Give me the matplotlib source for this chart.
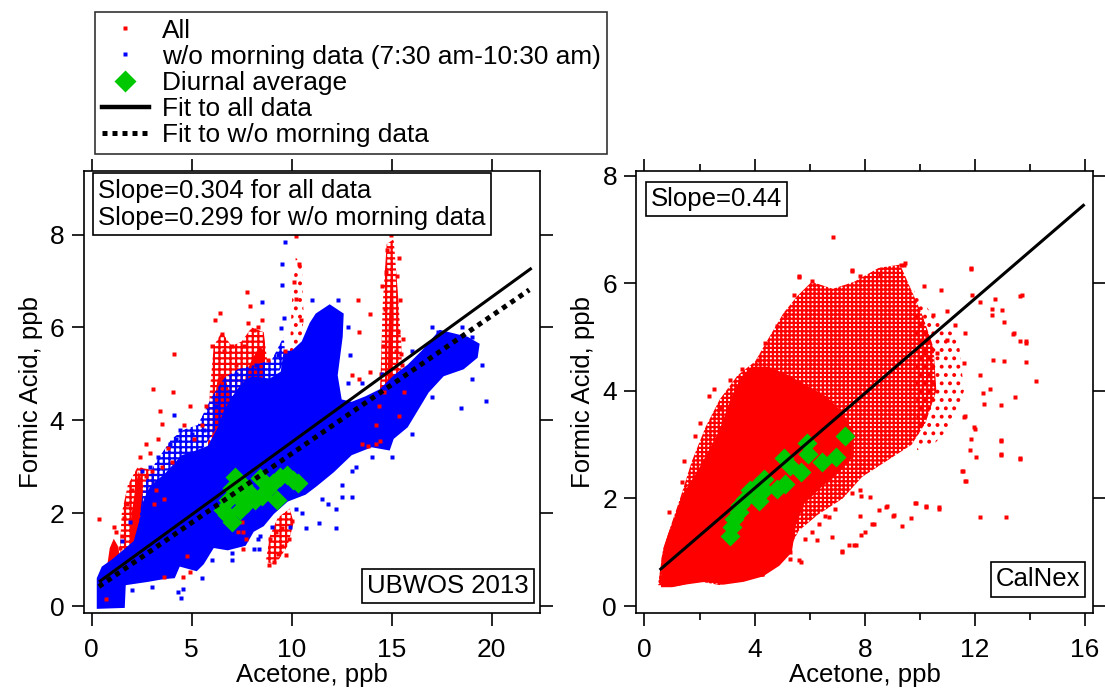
import matplotlib.pyplot as plt
from matplotlib.lines import Line2D

plt.rcParams['font.family'] = ['Liberation Sans', 'DejaVu Sans']
plt.rcParams['hatch.linewidth'] = 1.6

RED = '#ff0000'
BLUE = '#0000ff'
GREEN = '#00c800'

# ---------------- UBWOS 2013 ----------------
# outline of the dense "w/o morning data" cloud
ub_blue_x = [0.25, 1.65, 1.7, 2.8, 3.6, 4.15, 4.4, 5.25, 5.6, 6.1, 6.8, 7.7, 8.1, 8.6, 9.1, 9.8,
             10.7, 11.25, 12.1, 13.0, 14.0, 14.9, 15.1, 15.8, 16.5, 16.85, 17.6, 18.6, 19.3,
             19.4, 18.8, 17.4, 16.5, 15.8, 15.1, 14.4, 13.7, 13.0, 12.5, 12.3, 12.55, 12.6,
             11.9, 11.2, 10.9, 10.5, 10.0, 9.6, 9.45, 8.9, 8.0, 7.5, 7.0, 6.6, 6.3, 5.8, 5.2,
             4.5, 3.65, 2.95, 2.6, 2.45, 2.1, 1.55, 1.0, 0.5, 0.25]
ub_blue_y = [-0.06, -0.04, 0.45, 0.52, 0.58, 0.6, 0.85, 0.75, 0.9, 1.25, 1.2, 1.3, 1.6, 1.72, 1.98, 2.25,
             2.4, 2.58, 2.88, 3.25, 3.42, 3.35, 3.6, 3.85, 4.35, 4.6, 4.95, 5.1, 5.35,
             5.65, 5.8, 5.95, 5.5, 5.2, 4.97, 4.67, 4.52, 4.4, 4.45, 4.97, 5.8, 6.3,
             6.5, 6.3, 6.1, 5.7, 5.5, 5.5, 5.05, 4.9, 4.95, 4.8, 4.5, 4.2, 3.85, 3.45, 3.35,
             3.25, 2.85, 2.6, 2.3, 1.95, 1.4, 1.2, 1.0, 0.85, 0.6]
# thinner blue speckle around the top of the cloud
ub_blue_fringe_x = [2.3, 2.6, 3.2, 4.0, 4.6, 5.3, 6.0, 6.6, 7.3, 8.2, 9.0, 9.6, 9.7, 9.0, 8.0,
                    7.0, 6.2, 5.4, 4.6, 3.7, 3.0]
ub_blue_fringe_y = [1.6, 2.6, 3.1, 3.6, 3.8, 3.9, 4.5, 4.9, 5.1, 5.2, 5.3, 5.8, 5.3, 4.8, 4.7,
                    4.3, 3.8, 3.3, 3.1, 2.7, 2.3]

# dense morning ("All") patches that stick out of the blue cloud
ub_red_solid1_x = [0.7, 0.75, 0.9, 1.1, 1.3, 1.5, 1.35]
ub_red_solid1_y = [0.0, 0.8, 1.25, 1.45, 1.3, 0.9, 0.0]
ub_red_solid2_x = [1.9, 2.0, 2.2, 2.35, 2.5, 2.55, 2.4, 2.1]
ub_red_solid2_y = [1.3, 2.0, 2.6, 2.9, 2.7, 1.9, 1.0, 0.9]
ub_red_solid3_x = [6.0, 6.1, 6.3, 6.6, 6.9, 6.9, 6.6]
ub_red_solid3_y = [3.4, 4.3, 4.9, 5.0, 4.6, 3.9, 3.4]
ub_red_solid4_x = [7.6, 7.7, 8.0, 8.4, 8.6, 8.6, 8.3, 7.9]
ub_red_solid4_y = [4.4, 5.0, 5.3, 5.6, 5.5, 5.0, 4.5, 4.3]
ub_red_solid5_x = [14.8, 14.85, 14.95, 15.05, 15.1, 15.0]
ub_red_solid5_y = [4.8, 6.0, 7.0, 7.5, 6.2, 4.9]

# speckled morning areas
ub_red_speck1_x = [1.4, 1.5, 1.8, 2.3, 2.8, 3.3, 3.0, 2.6, 2.2, 1.7]
ub_red_speck1_y = [1.2, 2.0, 2.6, 3.0, 2.95, 2.9, 2.3, 1.6, 0.9, 0.9]
ub_red_speck2_x = [5.8, 5.9, 6.1, 6.5, 7.0, 7.5, 8.0, 8.6, 8.8, 8.6, 7.8, 7.0, 6.4]
ub_red_speck2_y = [3.3, 4.6, 5.6, 5.9, 5.6, 5.7, 6.0, 5.9, 5.2, 4.4, 3.8, 3.3, 3.0]
ub_red_speck3_x = [14.3, 14.45, 14.55, 14.75, 15.1, 15.3, 15.5, 15.45, 15.1]
ub_red_speck3_y = [3.6, 5.0, 6.5, 7.8, 7.9, 6.8, 5.5, 4.4, 3.6]
ub_red_speck4_x = [8.7, 8.9, 9.3, 9.9, 10.1, 9.8, 9.2]
ub_red_speck4_y = [0.95, 1.5, 1.9, 2.1, 1.8, 1.3, 0.9]
ub_red_speck5_x = [9.9, 10.0, 10.2, 10.5, 10.6, 10.4]
ub_red_speck5_y = [5.4, 6.5, 7.5, 7.4, 6.2, 5.4]

ub_red_x = [10.47, 10.20, 10.38, 10.12, 10.20, 10.47, 9.68, 7.74, 7.91, 7.83, 8.53, 8.09, 6.15, 6.42,
            6.51, 4.13, 3.07, 4.04, 4.92, 3.51, 2.72, 0.34, 14.78, 14.61, 15.22, 15.13, 13.37, 13.37,
            15.57, 15.49, 13.02, 13.9, 8.88, 9.32, 9.85, 9.50, 10.03, 7.56, 7.56, 4.92, 4.75, 4.57,
            3.60, 0.70, 14.45, 14.55, 14.65, 15.3, 15.4, 15.5, 14.7, 15.25, 14.95, 14.35, 15.6, 14.2,
            15.35, 14.6, 15.2, 14.5, 15.35, 6.6, 7.2, 7.0, 8.3, 8.8, 5.7, 5.5, 6.0, 7.6, 1.5, 1.6,
            1.75, 2.0, 1.4, 2.7, 3.0, 3.2, 3.5, 2.9, 3.3, 3.8, 4.0, 1.2, 3.1, 3.6, 7.3, 7.5, 7.7,
            8.9, 9.2, 9.5, 9.7, 9.1, 13.5, 13.8, 14.2, 14.4, 4.6, 5.1, 3.4, 2.4, 1.1, 13.9, 13.3]
ub_red_y = [9.20, 7.97, 7.37, 6.99, 6.62, 6.17, 5.50, 6.77, 6.47, 6.10, 6.17, 5.95, 6.17, 6.32,
            5.87, 5.42, 4.67, 4.60, 4.30, 3.93, 3.48, 1.87, 7.67, 8.34, 8.49, 8.12, 4.9, 5.91,
            5.76, 5.42, 4.97, 5.05, 0.89, 1.12, 1.45, 1.68, 1.83, 1.23, 1.6, 0.74, 1.08, 0.63,
            0.63, 0.15, 5.0, 5.6, 6.4, 5.9, 6.6, 5.2, 7.2, 7.1, 8.0, 4.3, 4.6, 3.9,
            4.1, 4.6, 5.5, 6.9, 7.5, 5.5, 5.2, 5.6, 6.0, 5.3, 4.3, 3.9, 5.6, 5.6, 1.5, 1.9,
            2.2, 2.5, 1.25, 2.8, 2.9, 2.5, 3.0, 3.3, 3.6, 3.4, 3.1, 1.6, 2.2, 2.3, 1.6, 1.8, 1.45,
            1.45, 1.6, 1.3, 1.1, 0.95, 3.5, 3.45, 3.5, 3.55, 3.9, 3.6, 4.2, 3.2, 1.7, 6.3, 6.6]

ub_blue_pts_x = [9.68, 9.50, 9.50, 8.53, 9.59, 9.45, 18.48, 19.71, 4.13, 12.49, 13.02, 12.23, 11.35,
                 4.48, 4.57, 10.73, 8.36, 8.09, 7.03, 17.25, 17.95, 17.34, 12.8, 12.9, 13.0, 11.8,
                 10.5, 9.9, 4.2, 4.4, 3.9, 2.9, 3.3, 2.5, 1.9, 1.5, 4.3, 8.3, 7.3, 12.2, 18.2,
                 19.0, 17.6, 5.0, 5.6, 6.2, 7.2, 8.2, 9.3, 11.0, 12.3, 12.8, 13.5, 14.5, 16.0,
                 17.0, 18.5, 19.5, 19.0, 17.0, 16.0, 15.0, 14.0, 13.2, 12.5, 11.5, 10.2, 9.0,
                 8.4, 7.0, 6.0, 5.5, 3.0, 2.0]
ub_blue_pts_y = [7.85, 7.37, 6.92, 6.54, 6.21, 5.98, 4.26, 4.41, 4.11, 2.35, 2.35, 1.68, 1.79,
                 0.18, 0.37, 1.68, 1.23, 1.23, 1.15, 5.42, 5.65, 5.91, 6.0, 5.4, 2.9, 2.2,
                 2.0, 1.7, 3.6, 3.8, 3.5, 3.0, 3.2, 2.9, 1.8, 1.4, 0.3, 1.45, 1.5, 2.1, 5.5,
                 5.8, 5.3, 3.7, 3.8, 4.3, 5.0, 5.2, 5.4, 6.6, 6.6, 4.8, 4.8, 5.0, 5.5,
                 6.0, 6.0, 5.2, 4.9, 4.5, 3.7, 3.2, 3.2, 3.0, 2.6, 2.3, 2.1, 1.7,
                 1.5, 1.0, 1.0, 0.6, 0.4, 0.35]

ub_diurnal_x = [7.17, 7.0, 7.58, 6.83, 6.75, 7.0, 7.42, 7.75, 8.17, 8.5, 8.75, 9.08, 9.42, 9.75,
                10.08, 10.33, 7.92, 7.25, 6.58, 8.42, 9.25]
ub_diurnal_y = [2.79, 2.54, 2.61, 2.29, 1.96, 1.82, 2.07, 2.21, 2.29, 2.36, 2.50, 2.65, 2.79, 2.82,
                2.72, 2.65, 2.43, 2.36, 2.07, 2.76, 2.29]

ub_fit_all_x = [0.36, 22.0]
ub_fit_all_y = [0.52, 7.28]
ub_fit_wo_x = [0.36, 21.88]
ub_fit_wo_y = [0.42, 6.81]

# ---------------- CalNex ----------------
cn_core_x = [0.6, 0.62, 0.8, 1.05, 1.36, 1.97, 2.69, 3.18, 3.5, 3.9, 4.5, 5.2, 5.9, 6.6, 7.2, 7.6,
             7.6, 7.1, 6.4, 5.8, 5.5, 5.35, 4.9, 4.3, 3.6, 2.9, 2.2, 1.5, 1.0]
cn_core_y = [0.35, 0.9, 1.25, 1.6, 2.05, 2.55, 3.23, 3.91, 4.25, 4.45, 4.45, 4.3, 4.1, 3.9, 3.6, 3.2,
             2.8, 2.5, 2.2, 1.9, 1.5, 1.0, 0.75, 0.55, 0.45, 0.4, 0.45, 0.4, 0.35]

cn_halo_x = [0.49, 0.68, 1.32, 1.71, 2.22, 2.73, 3.38, 4.02, 4.53, 5.05, 5.56, 6.07, 6.84, 7.61,
             8.51, 9.28, 9.67, 10.1, 10.5, 10.6, 10.2, 9.7, 8.8, 7.9, 7.2, 6.3, 5.6, 5.1,
             4.3, 3.76, 2.73, 1.96, 1.07]
cn_halo_y = [0.39, 1.07, 2.04, 2.68, 3.33, 3.84, 4.29, 4.55, 5.0, 5.45, 5.77, 6.03, 5.9, 6.03,
             6.29, 6.35, 5.9, 5.4, 4.8, 4.0, 3.4, 3.0, 2.7, 2.4, 2.0, 1.7, 1.4, 0.9,
             0.6, 0.49, 0.39, 0.46, 0.36]
cn_sparse_x = [9.8, 10.6, 11.4, 11.6, 11.2, 10.5, 9.9]
cn_sparse_y = [5.9, 5.3, 5.0, 4.0, 3.4, 3.0, 2.9]

cn_pts_x = [6.84, 11.85, 9.41, 7.55, 5.62, 13.65, 12.62, 13.07, 13.84, 13.39, 14.22, 12.56, 12.94,
            12.3, 11.59, 11.98, 12.94, 12.94, 13.65, 11.53, 11.66, 10.24, 10.69, 9.86, 12.17,
            13.13, 8.77, 9.03, 8.26, 7.87, 7.16, 7.61, 5.69, 5.30, 4.28, 7.55, 7.87, 6.71, 6.33,
            13.65, 12.94, 12.94, 11.65, 11.55, 12.04, 11.83, 10.68, 10.23, 9.83, 9.68, 9.35,
            9.07, 8.81, 8.50, 8.32, 8.02, 7.69, 7.41, 7.84, 8.20, 7.81, 12.32, 13.46, 11.65,
            11.86, 12.01, 7.53, 9.47, 9.31, 11.86, 7.84, 8.54, 10.14, 10.77, 11.89, 13.71, 12.74,
            12.98, 12.19, 12.62, 13.41, 13.65, 13.86, 13.86, 13.04, 12.64, 12.17, 11.59, 11.29,
            11.65, 10.98, 10.62, 10.98, 10.48, 10.08, 10.26, 10.14, 5.60, 6.08,
            5.42, 5.11, 4.81, 4.39, 4.15, 3.55, 3.12, 1.42, 1.84, 2.33, 2.75, 0.88, 1.36, 2.03,
            2.51, 4.27, 5.29, 5.60, 6.08, 6.26, 6.56, 6.81, 7.17, 5.84, 6.93, 0.64]
cn_pts_y = [6.87, 6.26, 6.35, 6.24, 6.11, 5.77, 5.52, 5.29, 4.90, 5.06, 4.18, 4.03, 3.74,
            3.97, 3.52, 3.33, 3.07, 2.81, 2.74, 2.52, 2.33, 1.84, 1.81, 1.91, 1.65,
            1.65, 1.84, 1.68, 1.52, 1.33, 1.00, 1.13, 0.81, 0.88, 0.59, 2.10, 2.04, 1.65, 1.52,
            2.76, 2.83, 3.09, 2.33, 2.52, 2.78, 2.90, 1.84, 1.86, 1.92, 1.63, 1.48,
            1.70, 1.86, 1.79, 1.53, 1.37, 1.13, 1.14, 1.67, 2.02, 2.15, 3.75, 3.88, 3.54,
            3.10, 3.29, 6.25, 6.38, 6.35, 6.28, 6.14, 6.16, 5.96, 5.87, 5.79, 5.79, 5.71,
            5.51, 5.66, 5.42, 5.08, 4.92, 4.92, 4.53, 4.55, 4.57, 4.30, 4.52, 5.23,
            5.08, 4.95, 4.71, 5.48, 5.42, 5.26, 5.01, 4.71, 6.13, 6.04,
            5.79, 5.42, 5.20, 4.89, 4.58, 4.40, 4.20, 2.70, 3.17, 3.91, 3.69, 1.74, 2.30, 3.41,
            4.03, 0.60, 1.00, 0.85, 1.37, 1.22, 1.68, 1.28, 1.03, 1.25, 1.81, 0.51]

cn_diurnal_x = [3.12, 3.18, 3.24, 3.42, 3.48, 3.66, 3.84, 4.08, 4.33, 4.15, 4.33, 4.81, 5.11, 5.05,
                5.29, 5.69, 5.90, 5.94, 6.45, 6.95, 7.29]
cn_diurnal_y = [1.31, 1.47, 1.62, 1.74, 1.87, 1.99, 2.15, 2.24, 2.36, 1.96, 2.15, 2.18, 2.27, 2.75,
                2.61, 2.50, 3.04, 2.83, 2.67, 2.78, 3.17]

cn_fit_x = [0.55, 15.98]
cn_fit_y = [0.67, 7.47]

FS = 18.5
DOT_STYLE = (0, (1, 1))


def style_axes(ax, xticks, yticks, xlim, ylim):
    ax.set_xlim(*xlim)
    ax.set_ylim(*ylim)
    ax.set_xticks(xticks)
    ax.set_yticks(yticks)
    ax.tick_params(direction='out', length=9, width=1.2, top=True, right=True,
                   labelsize=19, pad=5)
    ax.tick_params(axis='x', pad=9)
    for sp in ax.spines.values():
        sp.set_linewidth(1.2)
    ax.set_xlabel('Acetone, ppb', fontsize=18.5, labelpad=1)
    ax.set_ylabel('Formic Acid, ppb', fontsize=18.5, labelpad=5)


def points(ax, x, y, color):
    ax.plot(x, y, ls='none', marker='s', ms=2.4, mfc=color, mec='none')


def speckle(ax, x, y, color, pattern):
    ax.fill(x, y, facecolor='none', edgecolor=color, lw=0, hatch=pattern)


def box_text(ax, x, y, s, ha, va):
    ax.text(x, y, s, transform=ax.transAxes, ha=ha, va=va, fontsize=FS,
            bbox=dict(boxstyle='square,pad=0.2', fc='white', ec='black', lw=1.2))


fig = plt.figure(figsize=(11.05, 6.93), dpi=100)
ax1 = fig.add_axes([0.0758, 0.1154, 0.4133, 0.6378])
ax2 = fig.add_axes([0.5760, 0.1154, 0.4127, 0.6378])

# left panel: "All" first, "w/o morning" on top of it
for zx, zy in [(ub_red_speck1_x, ub_red_speck1_y), (ub_red_speck2_x, ub_red_speck2_y),
               (ub_red_speck3_x, ub_red_speck3_y), (ub_red_speck4_x, ub_red_speck4_y)]:
    speckle(ax1, zx, zy, RED, '+++')
speckle(ax1, ub_red_speck5_x, ub_red_speck5_y, RED, '..')
for zx, zy in [(ub_red_solid1_x, ub_red_solid1_y), (ub_red_solid2_x, ub_red_solid2_y),
               (ub_red_solid3_x, ub_red_solid3_y), (ub_red_solid4_x, ub_red_solid4_y),
               (ub_red_solid5_x, ub_red_solid5_y)]:
    ax1.fill(zx, zy, color=RED, lw=0)
points(ax1, ub_red_x, ub_red_y, RED)
speckle(ax1, ub_blue_fringe_x, ub_blue_fringe_y, BLUE, '+++')
ax1.fill(ub_blue_x, ub_blue_y, color=BLUE, lw=0)
points(ax1, ub_blue_pts_x, ub_blue_pts_y, BLUE)
ax1.plot(ub_diurnal_x, ub_diurnal_y, ls='none', marker='D', ms=10, mfc=GREEN, mec='none')
ax1.plot(ub_fit_all_x, ub_fit_all_y, color='black', lw=2.2, solid_capstyle='butt')
ax1.plot(ub_fit_wo_x, ub_fit_wo_y, color='black', lw=3.6, ls=DOT_STYLE, dash_capstyle='butt')
style_axes(ax1, [0, 5, 10, 15, 20], [0, 2, 4, 6, 8], (-0.4, 22.44), (-0.15, 9.37))
box_text(ax1, 0.032, 0.983, 'Slope=0.304 for all data\nSlope=0.299 for w/o morning data',
         'left', 'top')
box_text(ax1, 0.974, 0.034, 'UBWOS 2013', 'right', 'bottom')

# right panel
speckle(ax2, cn_sparse_x, cn_sparse_y, RED, '..')
speckle(ax2, cn_halo_x, cn_halo_y, RED, '++++')
ax2.fill(cn_core_x, cn_core_y, color=RED, lw=0)
points(ax2, cn_pts_x, cn_pts_y, RED)
ax2.plot(cn_diurnal_x, cn_diurnal_y, ls='none', marker='D', ms=10, mfc=GREEN, mec='none')
ax2.plot(cn_fit_x, cn_fit_y, color='black', lw=2.2, solid_capstyle='butt')
style_axes(ax2, [0, 4, 8, 12, 16], [0, 2, 4, 6, 8], (-0.29, 16.27), (-0.13, 8.09))
ax2.set_xticks([2, 6, 10, 14], minor=True)
ax2.tick_params(axis='x', which='minor', direction='out', length=5, width=1.2, top=True)
box_text(ax2, 0.032, 0.964, 'Slope=0.44', 'left', 'top')
box_text(ax2, 0.973, 0.049, 'CalNex', 'right', 'bottom')

handles = [
    Line2D([], [], ls='none', marker='s', ms=3.5, mfc=RED, mec='none'),
    Line2D([], [], ls='none', marker='s', ms=3.5, mfc=BLUE, mec='none'),
    Line2D([], [], ls='none', marker='D', ms=11, mfc=GREEN, mec='none'),
    Line2D([], [], color='black', lw=3.2),
    Line2D([], [], color='black', lw=3.6, ls=DOT_STYLE),
]
labels = ['All', 'w/o morning data (7:30 am-10:30 am)', 'Diurnal average',
          'Fit to all data', 'Fit to w/o morning data']
leg = fig.legend(handles, labels, loc='upper left', bbox_to_anchor=(95 / 1105, 1 - 12 / 693),
                 borderaxespad=0, fontsize=18.9, frameon=True, fancybox=False,
                 edgecolor='black', handlelength=1.8, handletextpad=0.5, borderpad=0.25,
                 labelspacing=0.08)
leg.get_frame().set_linewidth(1.2)

fig.savefig('out.png', dpi=100)
